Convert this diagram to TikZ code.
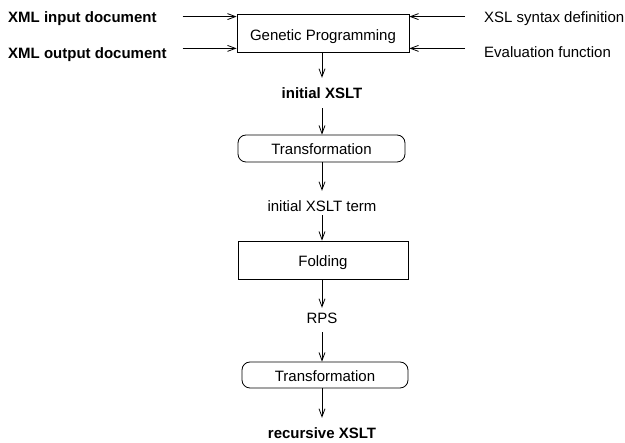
\documentclass[tikz,border=0pt]{standalone}
\usepackage{fontspec}
\setmainfont{Liberation Sans}
\usetikzlibrary{arrows.meta}
\tikzset{
  every node/.style={font=\fontsize{15}{17}\selectfont, inner sep=0pt, text height=11pt, text depth=3.5pt},
  blbl/.style={font=\fontsize{15}{17}\selectfont\bfseries},
  boxsq/.style={draw, line width=0.8pt, inner sep=0pt},
  boxrd/.style={draw, line width=0.8pt, inner sep=0pt, rounded corners=8pt},
  arr/.style={line width=0.8pt, -{Straight Barb[length=8pt,width=6pt,line width=0.8pt]}},
}
\begin{document}
\begin{tikzpicture}[x=1pt,y=-1pt]
\useasboundingbox (0,0) rectangle (625,443);
% boxes (anchor=base, text height/depth give the box extents)
\node[boxsq, anchor=base, minimum width=172pt, text height=27pt, text depth=11pt] (gp) at (323,41) {Genetic Programming};
\node[boxrd, anchor=base, minimum width=167pt, text height=19.5pt, text depth=7.5pt] (tr1) at (321.5,154.5) {Transformation};
\node[boxsq, anchor=base, minimum width=170pt, text height=26pt, text depth=12pt] (fold) at (323,267) {Folding};
\node[boxrd, anchor=base, minimum width=166pt, text height=19.5pt, text depth=6.5pt] (tr2) at (325,381.5) {Transformation};
% side texts
\node[blbl, anchor=base west] (xin) at (8,22.5) {XML input document};
\node[blbl, anchor=base west] (xout) at (8,58.5) {XML output document};
\node[anchor=base west] (xsl) at (484,22.5) {XSL syntax definition};
\node[anchor=base west] (ev) at (484,57.5) {Evaluation function};
% column texts
\node[blbl, anchor=base] (ix) at (322,98.5) {initial XSLT};
\node[anchor=base] (term) at (322,211.5) {initial XSLT term};
\node[anchor=base] (rps) at (322,323.5) {RPS};
\node[blbl, anchor=base] (rx) at (322,438.5) {recursive XSLT};
% attachment points on the Genetic Programming box
\path ([yshift=-3pt]gp.north west) coordinate (gpW1)
      ([yshift=4pt]gp.south west) coordinate (gpW2)
      ([yshift=-3pt]gp.north east) coordinate (gpE1)
      ([yshift=4pt]gp.south east) coordinate (gpE2);
% connectors
\draw[arr, shorten <=26pt] (xin.east |- gpW1) -- (gpW1);
\draw[arr, shorten <=16pt] (xout.east |- gpW2) -- (gpW2);
\draw[arr, shorten <=19pt] (xsl.west |- gpE1) -- (gpE1);
\draw[arr, shorten <=19pt] (ev.west |- gpE2) -- (gpE2);
\draw[arr, shorten >=9.5pt] (gp.south -| ix) -- (ix.north);
\draw[arr, shorten <=6pt] (ix.south) -- (tr1.north -| ix);
\draw[arr, shorten >=9.5pt] (tr1.south -| term) -- (term.north);
\draw[arr] (term.south) -- (fold.north -| term);
\draw[arr, shorten >=4.5pt] (fold.south -| rps) -- (rps.north);
\draw[arr, shorten <=5pt] (rps.south) -- (tr2.north -| rps);
\draw[arr, shorten >=9.5pt] (tr2.south -| rx) -- (rx.north);
\end{tikzpicture}
\end{document}
